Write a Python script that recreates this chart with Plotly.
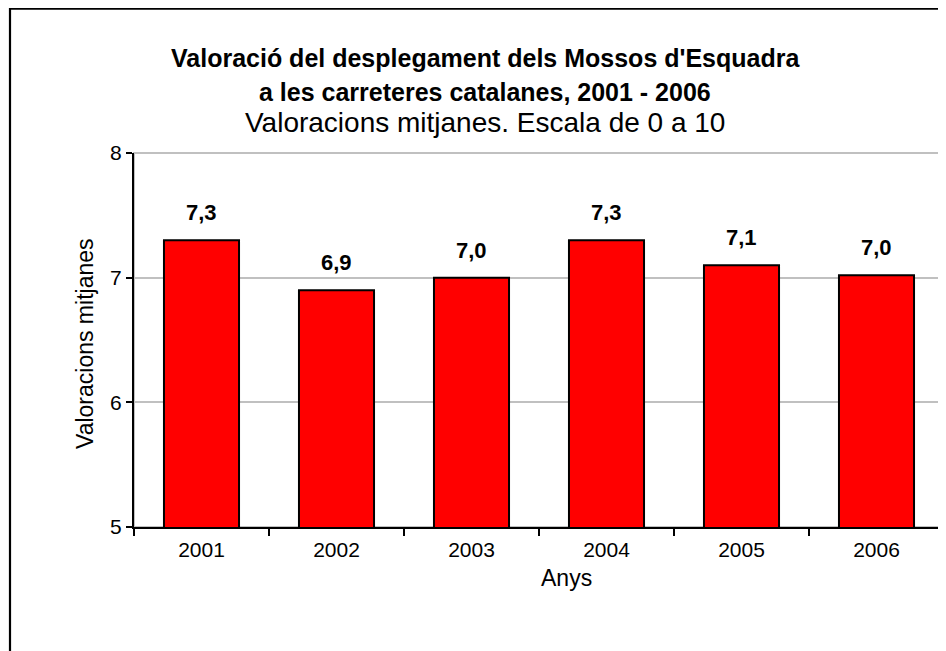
import plotly.graph_objects as go

years = ["2001", "2002", "2003", "2004", "2005", "2006"]
values = [7.3, 6.9, 7.0, 7.3, 7.1, 7.02]
labels = ["7,3", "6,9", "7,0", "7,3", "7,1", "7,0"]
title_line1 = "Valoració del desplegament dels Mossos d'Esquadra"
title_line2 = "a les carreteres catalanes, 2001 - 2006"
subtitle = "Valoracions mitjanes. Escala de 0 a 10"
y_title = "Valoracions mitjanes"
x_title = "Anys"

FONT = "Liberation Sans, Arial, sans-serif"

# page body has an 8px margin, so the figure is drawn 8px in from the corner
OFF = 8
W, H = 946 - OFF, 651 - OFF
L, R, T, B = 134 - OFF, 2, 153 - OFF, 124
PW, PH = W - L - R, H - T - B


def px_x(px):  # px in reference-screen coordinates
    return (px - OFF - L) / PW


def px_y(py):
    return (H - B - (py - OFF)) / PH


fig = go.Figure()
fig.add_trace(go.Bar(
    x=years, y=values,
    marker=dict(color="#ff0000", line=dict(color="#000000", width=2)),
    hoverinfo="skip",
))

for i, (v, t) in enumerate(zip(values, labels)):
    fig.add_annotation(x=i, y=v, xref="x", yref="y", text="<b>" + t + "</b>",
                       showarrow=False, yanchor="bottom", yshift=13,
                       font=dict(family=FONT, size=22, color="#000"))

fig.update_layout(
    width=W, height=H,
    margin=dict(l=L, r=R, t=T, b=B, autoexpand=False),
    paper_bgcolor="white", plot_bgcolor="white",
    showlegend=False,
    bargap=0.444,
    font=dict(family=FONT, size=21, color="#000"),
    xaxis=dict(
        type="category", range=[-0.5, 5.5], tickson="boundaries",
        ticks="outside", ticklen=7, tickwidth=2, tickcolor="#000",
        showline=True, linecolor="#000", linewidth=2, showgrid=False,
        tickfont=dict(size=21), tickangle=0, automargin=False,
        ticklabelstandoff=3,
    ),
    yaxis=dict(
        range=[5, 8], tickvals=[5, 6, 7, 8], ticks="outside", ticklen=6,
        tickwidth=2, tickcolor="#000", showline=True, linecolor="#000",
        linewidth=2, showgrid=True, gridcolor="#c0c0c0", gridwidth=2,
        zeroline=False, tickfont=dict(size=21), automargin=False,
    ),
)

# gray plot-area frame (top/right)
fig.add_shape(type="rect", xref="paper", yref="paper", x0=0, x1=1, y0=0, y1=1,
              line=dict(color="#c0c0c0", width=2), layer="below")
# outer chart border (black, extends past window edge)
fig.add_shape(type="rect", xref="paper", yref="paper",
              x0=px_x(10), x1=px_x(946 + 20), y0=px_y(651 + 20), y1=px_y(OFF + 0.6),
              line=dict(color="#000", width=2.2), layer="below")

cx = px_x(485)
for txt, yy, sz in [("<b>" + title_line1 + "</b>", 58, 25),
                    ("<b>" + title_line2 + "</b>", 92, 25),
                    (subtitle, 123, 28)]:
    fig.add_annotation(xref="paper", yref="paper", x=cx, y=px_y(yy),
                       xanchor="center", yanchor="middle",
                       text=txt, showarrow=False,
                       font=dict(family=FONT, size=sz, color="#000"))

# axis titles
fig.add_annotation(xref="paper", yref="paper", x=px_x(566), y=px_y(578),
                   xanchor="center", yanchor="middle",
                   text=x_title, showarrow=False,
                   font=dict(family=FONT, size=23, color="#000"))
fig.add_annotation(xref="paper", yref="paper", x=px_x(85), y=px_y(344),
                   xanchor="center", yanchor="middle",
                   text=y_title, showarrow=False, textangle=-90,
                   font=dict(family=FONT, size=23, color="#000"))

fig.write_html("out.html")
